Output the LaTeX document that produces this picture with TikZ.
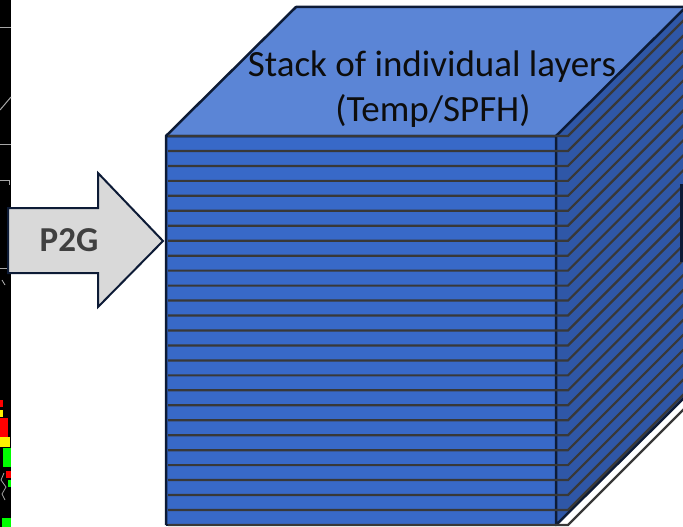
\documentclass[tikz,border=0pt]{standalone}
\usepackage{fontspec}
\setmainfont{Carlito}
\definecolor{frontblue}{HTML}{3869C8}
\definecolor{topblue}{HTML}{5B85D6}
\definecolor{sideblue}{HTML}{2F57A7}
\definecolor{navy}{HTML}{0D1B36}
\definecolor{layerline}{HTML}{383838}
\definecolor{arrowgray}{HTML}{D9D9D9}
\definecolor{labelgray}{HTML}{404040}
\tikzset{
  cubeedge/.style={draw=navy, line width=2.5pt, line join=round},
  layeredge/.style={draw=layerline, line width=2.2pt},
  blockarrow/.style={fill=arrowgray, draw=navy, line width=2pt, line join=miter},
  titletext/.style={font=\fontsize{37}{44}\selectfont, text=black!95, inner sep=0pt, anchor=base},
  arrowtext/.style={font=\bfseries\fontsize{35}{40}\selectfont, text=labelgray, inner sep=0pt, anchor=base},
}
\begin{document}
\begin{tikzpicture}[x=1pt,y=-1pt]
\useasboundingbox (0,0) rectangle (683,527);
\clip (0,0) rectangle (683,527);

% corners of the cube
\coordinate (ftl) at (166,136);
\coordinate (ftr) at (556,136);
\coordinate (fbr) at (556,525);
\coordinate (fbl) at (166,525);
\coordinate (btl) at (296,7);
\coordinate (btr) at (686,7);
\coordinate (bbr) at (686,396);

% strip of a neighbouring plot on the left
\fill[black] (0,0) rectangle (11,527);
\draw[gray!70, line width=1pt] (0,28) -- (11,28);
\draw[gray!70, line width=1pt] (0,110) -- (11,97);
\draw[gray!70, line width=1pt] (0,144) -- (11,144);
\draw[gray!70, line width=1pt] (0,180) -- (9,180) -- (9,185);
\draw[gray!70, line width=1pt] (0,268) -- (10,268);
\draw[gray!60, line width=0.8pt] (2,280) -- (5,285);
\fill[red] (0,400) rectangle (3,407);
\fill[yellow] (0,410) rectangle (3,417);
\fill[red] (0,418) rectangle (8,437);
\fill[yellow] (0,437) rectangle (10,447);
\fill[green] (3,448) rectangle (11,467);
\fill[red] (6,471) rectangle (11,478);
\fill[green] (8,480) rectangle (11,487);
\draw[gray!70, line width=0.8pt] (4,473) -- (1,480) -- (6,487) -- (2,494) -- (5,500);
\fill[green] (2,518) rectangle (11,527);

% faces of the cube
\fill[frontblue] (ftl) rectangle (fbr);
\fill[topblue] (ftl) -- (btl) -- (btr) -- (ftr) -- cycle;
\fill[sideblue] (ftr) -- (btr) -- (bbr) -- (fbr) -- cycle;
\draw[cubeedge] (fbl) -- (ftl) -- (btl) -- (btr);
\draw[cubeedge] (ftl) -- (ftr) -- (btr);
\draw[cubeedge] (ftr) -- (fbr) -- (bbr);
\draw[cubeedge] (fbl) -- (fbr);

% individual layers: front edges and side edges
\foreach \k in {0,...,26}{
  \pgfmathsetmacro{\yk}{136+\k*14.96}
  \coordinate (la\k) at (168,\yk);
  \coordinate (lb\k) at (568,\yk);
  \coordinate (lc\k) at (698,\yk-130);
  \draw[layeredge] (la\k) -- (lb\k) -- (lc\k);
}

% label on the top face
\node[titletext] (title1) at (432,76.7) {Stack of individual layers};
\node[titletext] (title2) at (433,121.7) {(Temp/SPFH)};

% P2G block arrow
\draw[blockarrow] (8,208) -- (98,208) -- (98,173) -- (163,241) -- (98,307) -- (98,273) -- (8,273) -- cycle;
\node[arrowtext] (p2g) at (69,251.7) {P2G};

% edge of the next element on the right
\fill[navy] (680,184) rectangle (684,262);
\end{tikzpicture}
\end{document}
